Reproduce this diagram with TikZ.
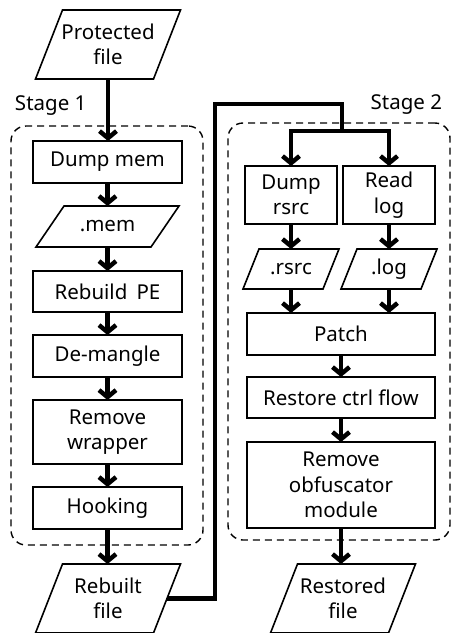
\documentclass[tikz,border=0pt]{standalone}
\usepackage{fontspec}
\setmainfont{Noto Sans}
\usetikzlibrary{arrows.meta}
\newcommand\drawpara[2]{\draw[paraline] ([xshift=#2]#1.north west) -- ([xshift=#2]#1.north east) -- ([xshift=-#2]#1.south east) -- ([xshift=-#2]#1.south west) -- cycle;}
\begin{document}
\begin{tikzpicture}[x=1pt,y=-1pt,
  every node/.style={font=\fontsize{20.5}{25.5}\selectfont, align=center, inner sep=0pt, outer sep=0pt},
  procbox/.style={draw, line width=1.8pt},
  iobox/.style={},
  paraline/.style={line width=1.6pt, line join=miter},
  stagebox/.style={draw, dash pattern=on 7pt off 5pt, line width=1.4pt, rounded corners=15pt},
  flow/.style={line width=4.5pt, -{Straight Barb[length=7pt,width=17pt]}},
  link/.style={line width=4.5pt, line join=miter},
  stagelabel/.style={}
]
\useasboundingbox (0,0) rectangle (452,633);

% stage containers
\node[stagebox, minimum width=192, minimum height=419] (s1) at (107,335.5) {};
\node[stagebox, minimum width=222, minimum height=417] (s2) at (339,331.5) {};
\node[stagelabel, anchor=west] (l1) at (15,106) {Stage 1};
\node[stagelabel, anchor=east] (l2) at (442,105) {Stage 2};

% stage 1
\node[iobox, minimum width=118, minimum height=69] (pf) at (108,44.5) {Protected\\file};
\node[procbox, minimum width=149, minimum height=42] (dm) at (107.5,162) {Dump mem};
\node[iobox, minimum width=115, minimum height=41] (mem) at (107.5,226.5) {.mem};
\node[procbox, minimum width=149, minimum height=41] (rpe) at (107.5,291.5) {Rebuild\hspace{0.45em}PE};
\node[procbox, minimum width=149, minimum height=42] (dmg) at (107.5,356) {De-mangle};
\node[procbox, minimum width=149, minimum height=64] (rw) at (107.5,432) {Remove\\wrapper};
\node[procbox, minimum width=149, minimum height=42] (hk) at (107.5,508) {Hooking};
\node[iobox, minimum width=118, minimum height=69] (rf) at (108,598.5) {Rebuilt\\file};

% stage 2
\node[procbox, minimum width=92, minimum height=58] (dr) at (291,195) {Dump\\rsrc};
\node[procbox, minimum width=92, minimum height=58] (rl) at (389,195) {Read\\log};
\node[iobox, minimum width=80, minimum height=40] (rs) at (291,269) {.rsrc};
\node[iobox, minimum width=80, minimum height=40] (lg) at (389,269) {.log};
\node[procbox, minimum width=188, minimum height=42] (pt) at (341,334) {Patch};
\node[procbox, minimum width=188, minimum height=41] (rcf) at (341,397.5) {Restore ctrl flow};
\node[procbox, minimum width=188, minimum height=86] (rom) at (341,485) {Remove\\obfuscator\\module};
\node[iobox, minimum width=118, minimum height=69] (rsf) at (343,598.5) {Restored\\file};

\drawpara{pf}{13.5pt}
\drawpara{mem}{14pt}
\drawpara{rf}{13.5pt}
\drawpara{rs}{8pt}
\drawpara{lg}{8pt}
\drawpara{rsf}{13.5pt}

% stage 1 flow
\draw[flow] (pf.south) -- (pf.south |- dm.north);
\draw[flow] (dm.south) -- (dm.south |- mem.north);
\draw[flow] (mem.south) -- (mem.south |- rpe.north);
\draw[flow] (rpe) -- (dmg);
\draw[flow] (dmg) -- (rw);
\draw[flow] (rw) -- (hk);
\draw[flow] (hk.south) -- (hk.south |- rf.north);

% link between stages
\coordinate (c1) at (215,104);
\coordinate (split) at (342,131);
\draw[link] (rf.east) -| (c1) -| (split);
\draw[flow] (split) -| (dr.north);
\draw[flow] (split) -| (rl.north);

% stage 2 flow
\draw[flow] (dr) -- (rs);
\draw[flow] (rl) -- (lg);
\draw[flow] (rs.south) -- (rs.south |- pt.north);
\draw[flow] (lg.south) -- (lg.south |- pt.north);
\draw[flow] (pt) -- (rcf);
\draw[flow] (rcf) -- (rom);
\draw[flow] (rom.south) -- (rom.south |- rsf.north);
\end{tikzpicture}
\end{document}
